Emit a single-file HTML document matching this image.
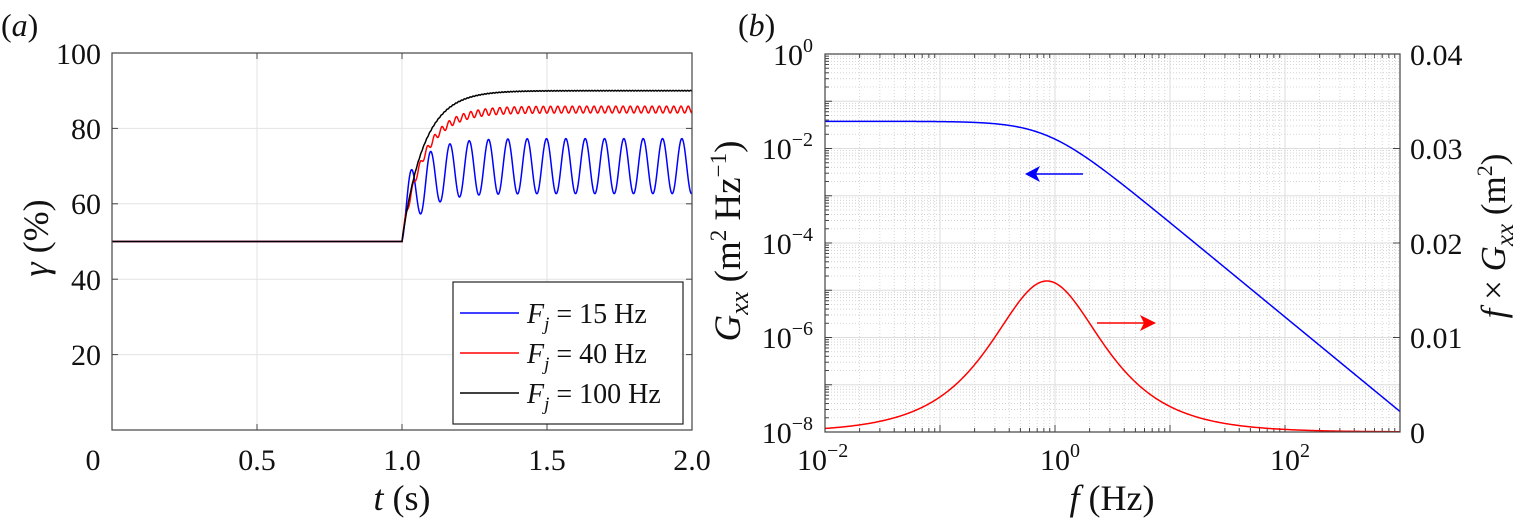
<!DOCTYPE html>
<html><head><meta charset="utf-8"><style>
body{margin:0;background:#fff;width:1530px;height:524px;overflow:hidden}
svg{font-family:"Liberation Serif","Times New Roman","DejaVu Serif",serif}
</style></head><body>
<svg id="s" width="1530" height="524" xmlns="http://www.w3.org/2000/svg">
<g id="ga"></g>
<g id="gb"></g>
<rect x="112" y="53" width="580" height="377" fill="none" stroke="#444" stroke-width="1.2"/>
<rect x="825" y="54" width="575" height="378" fill="none" stroke="#444" stroke-width="1.2"/>
<g font-size="30" fill="#111">
<text x="1" y="36" font-size="32">(<tspan font-style="italic">a</tspan>)</text>
<text x="738" y="36" font-size="32">(<tspan font-style="italic">b</tspan>)</text>
<g text-anchor="end">
<text x="101" y="64">100</text><text x="101" y="139">80</text><text x="101" y="214">60</text><text x="101" y="290">40</text><text x="101" y="365">20</text>
</g>
<g text-anchor="middle">
<text x="93" y="470">0</text><text x="257" y="470">0.5</text><text x="402" y="470">1.0</text><text x="547" y="470">1.5</text><text x="692" y="470">2.0</text>
</g>
<text x="402" y="510" font-size="36" text-anchor="middle"><tspan font-style="italic">t</tspan> (s)</text>
<text transform="translate(48,238) rotate(-90)" font-size="36" text-anchor="middle"><tspan font-style="italic">γ</tspan> (%)</text>
<g text-anchor="end">
<text x="813" y="65">10<tspan font-size="20" dy="-13">0</tspan></text>
<text x="813" y="159">10<tspan font-size="20" dy="-13">−2</tspan></text>
<text x="813" y="254">10<tspan font-size="20" dy="-13">−4</tspan></text>
<text x="813" y="348">10<tspan font-size="20" dy="-13">−6</tspan></text>
<text x="813" y="443">10<tspan font-size="20" dy="-13">−8</tspan></text>
</g>
<text x="797" y="470">10<tspan font-size="20" dy="-13">−2</tspan></text>
<text x="1040" y="470">10<tspan font-size="20" dy="-13">0</tspan></text>
<text x="1270" y="470">10<tspan font-size="20" dy="-13">2</tspan></text>
<text x="1410" y="65">0.04</text><text x="1410" y="159">0.03</text><text x="1410" y="254">0.02</text><text x="1410" y="348">0.01</text><text x="1410" y="443">0</text>
<text x="1112" y="510" font-size="36" text-anchor="middle"><tspan font-style="italic">f</tspan> (Hz)</text>
<text transform="translate(740,241) rotate(-90)" font-size="37" text-anchor="middle"><tspan font-style="italic">G<tspan font-size="26" dy="8">xx</tspan></tspan><tspan dy="-8"> (m</tspan><tspan font-size="23" dy="-14">2</tspan><tspan dy="14"> Hz</tspan><tspan font-size="23" dy="-14">−1</tspan><tspan dy="14">)</tspan></text>
<text transform="translate(1505,236) rotate(-90)" font-size="35" text-anchor="middle"><tspan font-style="italic">f</tspan> × <tspan font-style="italic">G<tspan font-size="25" dy="8">xx</tspan></tspan><tspan dy="-8"> (m</tspan><tspan font-size="22" dy="-13">2</tspan><tspan dy="13">)</tspan></text>
</g>
<rect x="453" y="282" width="230" height="142" fill="#fff" stroke="#222" stroke-width="1.2"/>
<g font-size="28" fill="#111">
<line x1="460" y1="313" x2="519" y2="313" stroke="#00f" stroke-width="1.5"/>
<line x1="460" y1="353" x2="519" y2="353" stroke="#f00" stroke-width="1.5"/>
<line x1="460" y1="393" x2="519" y2="393" stroke="#000" stroke-width="1.5"/>
<text x="527" y="323"><tspan font-style="italic">F<tspan font-size="19" dy="7">j</tspan></tspan><tspan dy="-7"> = 15 Hz</tspan></text>
<text x="527" y="363"><tspan font-style="italic">F<tspan font-size="19" dy="7">j</tspan></tspan><tspan dy="-7"> = 40 Hz</tspan></text>
<text x="527" y="403"><tspan font-style="italic">F<tspan font-size="19" dy="7">j</tspan></tspan><tspan dy="-7"> = 100 Hz</tspan></text>
</g>
<line x1="1083" y1="174" x2="1035" y2="174" stroke="#00f" stroke-width="1.5"/>
<path d="M1025,174 L1040,166 L1036,174 L1040,182Z" fill="#00f"/>
<line x1="1097" y1="323" x2="1145" y2="323" stroke="#f00" stroke-width="1.5"/>
<path d="M1156,323 L1140,315 L1144,323 L1140,331Z" fill="#f00"/>
</svg>
<script>
var NS="http://www.w3.org/2000/svg";
function el(p,t,a){var e=document.createElementNS(NS,t);for(var k in a)e.setAttribute(k,a[k]);p.appendChild(e);return e;}
var ga=document.getElementById('ga'),gb=document.getElementById('gb');
var X=function(t){return 112+t*290},Y=function(v){return 430-v*3.77};
[0.5,1,1.5].forEach(function(t){el(ga,'line',{x1:X(t),x2:X(t),y1:53,y2:430,stroke:'#e3e3e3'});});
[20,40,60,80].forEach(function(v){el(ga,'line',{x1:112,x2:692,y1:Y(v),y2:Y(v),stroke:'#e3e3e3'});});
[0.5,1,1.5].forEach(function(t){el(ga,'line',{x1:X(t),x2:X(t),y1:430,y2:424,stroke:'#444'});el(ga,'line',{x1:X(t),x2:X(t),y1:53,y2:59,stroke:'#444'});});
[20,40,60,80].forEach(function(v){el(ga,'line',{x1:112,x2:118,y1:Y(v),y2:Y(v),stroke:'#444'});el(ga,'line',{x1:692,x2:686,y1:Y(v),y2:Y(v),stroke:'#444'});});
function sim(F,mean,amp,col){var tau=0.075,dt=0.0002,y=50,d="M"+X(0)+","+Y(50)+" L"+X(1)+","+Y(50);
for(var t=1;t<=2;t+=dt){var u=mean+amp*Math.sin(2*Math.PI*F*(t-1));y+=(u-y)*dt/tau;d+=" L"+X(t).toFixed(2)+","+Y(y).toFixed(2);}
el(ga,'path',{d:d,fill:'none',stroke:col,'stroke-width':1.5});}
sim(15,70,52,'#00f');sim(40,85,17,'#f00');sim(100,90,4,'#000');
var BX=function(lf){return 825+(lf+2)*115},BY=function(lg){return 54-lg*47.25},RY=function(v){return 432-v/0.04*378};
for(var d=-2;d<3;d++)for(var m=2;m<10;m++){var x=BX(d+Math.log10(m));el(gb,'line',{x1:x,x2:x,y1:54,y2:432,stroke:'#ccc','stroke-dasharray':'1,2','stroke-width':0.8});el(gb,'line',{x1:x,x2:x,y1:432,y2:428,stroke:'#444'});el(gb,'line',{x1:x,x2:x,y1:54,y2:58,stroke:'#444'});}
for(var d=-8;d<0;d++)for(var m=2;m<10;m++){var y=BY(d+Math.log10(m));el(gb,'line',{x1:825,x2:1400,y1:y,y2:y,stroke:'#ccc','stroke-dasharray':'1,2','stroke-width':0.8});el(gb,'line',{x1:825,x2:829,y1:y,y2:y,stroke:'#444'});}
[-1,0,1,2].forEach(function(d){var x=BX(d);el(gb,'line',{x1:x,x2:x,y1:54,y2:432,stroke:'#ddd'});el(gb,'line',{x1:x,x2:x,y1:432,y2:425,stroke:'#444'});});
[-7,-6,-5,-4,-3,-2,-1].forEach(function(d){var y=BY(d);el(gb,'line',{x1:825,x2:1400,y1:y,y2:y,stroke:'#ddd'});el(gb,'line',{x1:825,x2:832,y1:y,y2:y,stroke:'#444'});});
[0.01,0.02,0.03].forEach(function(v){el(gb,'line',{x1:1400,x2:1393,y1:RY(v),y2:RY(v),stroke:'#444'});});
var A=0.0376,fc=0.85,db="",dr="";
for(var i=0;i<=500;i++){var lf=-2+i*0.01,f=Math.pow(10,lf),G=A/(1+(f/fc)*(f/fc));
db+=(i?" L":"M")+BX(lf).toFixed(2)+","+BY(Math.log10(G)).toFixed(2);
dr+=(i?" L":"M")+BX(lf).toFixed(2)+","+RY(f*G).toFixed(2);}
el(gb,'path',{d:db,fill:'none',stroke:'#00f','stroke-width':1.5});
el(gb,'path',{d:dr,fill:'none',stroke:'#f00','stroke-width':1.5});
</script>
</body></html>
